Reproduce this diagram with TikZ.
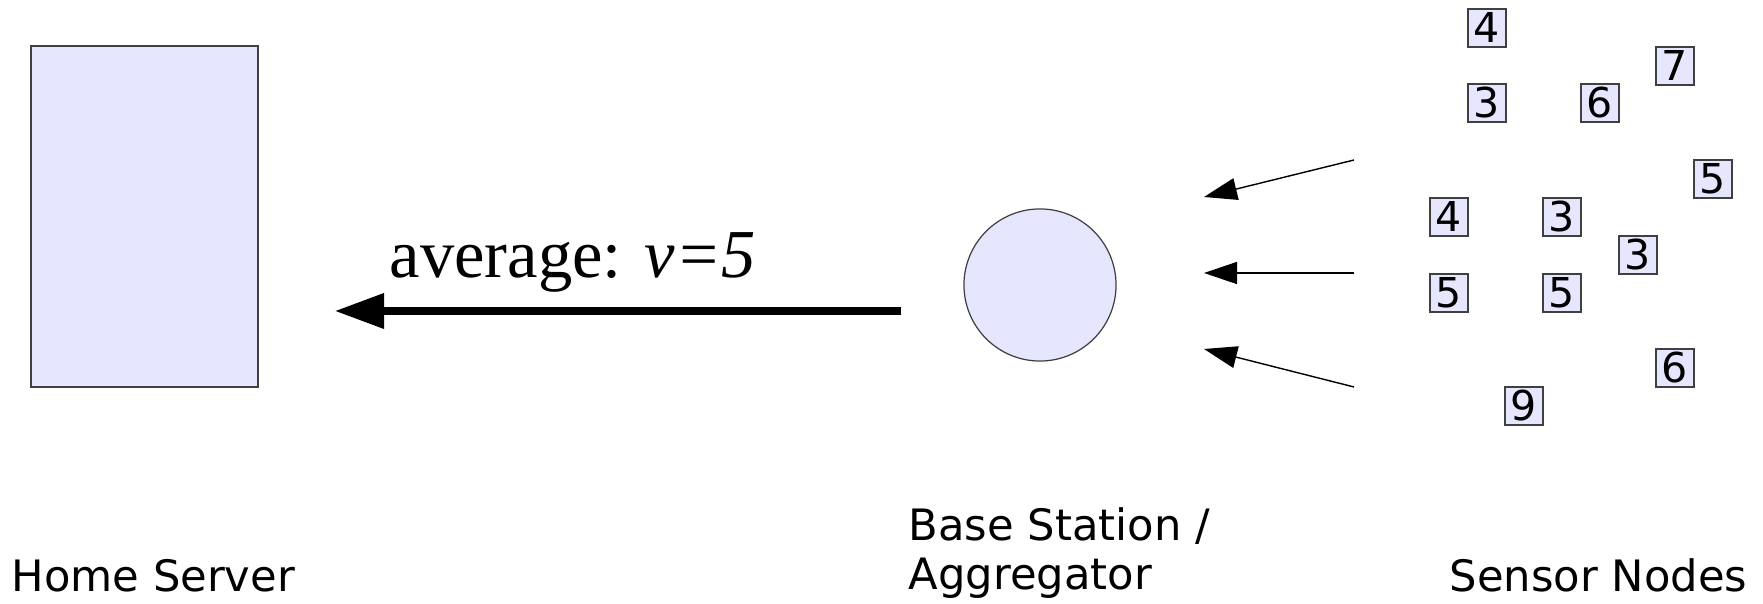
\documentclass[tikz,border=0pt]{standalone}
\usepackage{fontspec}
\setmainfont{DejaVu Sans}
\newfontfamily\timesfont{Liberation Serif}
\usetikzlibrary{positioning,arrows.meta}
\definecolor{nodefill}{HTML}{E6E6FF}
\definecolor{nodeline}{HTML}{404040}

\begin{document}
\begin{tikzpicture}[
    x=0.01cm, y=-0.01cm,
    device/.style={
        draw=nodeline,
        fill=nodefill,
        line width=0.35pt
    },
    sensor/.style={
        device,
        rectangle,
        minimum size=0.38cm,
        inner sep=0pt,
        font=\fontsize{11.7}{14}\selectfont
    },
    devname/.style={
        inner sep=0pt,
        anchor=base west,
        align=left,
        font=\fontsize{12.3}{14.2}\selectfont
    },
    report/.style={
        -{Triangle[length=4.9mm, width=3.4mm]},
        line width=2pt
    },
    reading/.style={
        -{Triangle[length=3.3mm, width=2.2mm]},
        line width=0.4pt
    }
]
\useasboundingbox (0,0) rectangle (1763,604);

\node[device, rectangle, minimum width=2.27cm, minimum height=3.41cm] (server)
    at (144.5,216.5) {};

\node[device, circle, minimum size=1.52cm] (station)
    at (1040,285) {};

% sensor readings
\foreach \name/\x/\y/\val in {
    s1/1487/28/4, s2/1675/66/7, s3/1487/103/3, s4/1600/103/6,
    s5/1713/179/5, s6/1449/217/4, s7/1562/217/3, s8/1638/255/3,
    s9/1449/293/5, s10/1562/293/5, s11/1675/368/6, s12/1524/406/9}
    \node[sensor] (\name) at (\x,\y) {\val};

\node[devname] (servername) at (11,592) {Home Server};
\node[devname] (stationname) at (908,590) {Base Station /\\Aggregator};
\node[devname] (sensorname) at (1449,592) {Sensor Nodes};

\coordinate (avgstart) at (901,311);
\coordinate (avgend) at (335,311);
\node[inner sep=0pt, anchor=base west, font=\timesfont\fontsize{19.5}{24}\selectfont] (avglabel)
    at (389,278) {average: \textit{v=5}};

\coordinate (in1) at (1354,160);
\coordinate (out1) at (1204,197);
\coordinate (in2) at (1354,273);
\coordinate (out2) at (1204,273);
\coordinate (in3) at (1354,387);
\coordinate (out3) at (1204,349);

\draw[report] (avgstart) -- (avgend);
\draw[reading] (in1) -- (out1);
\draw[reading] (in2) -- (out2);
\draw[reading] (in3) -- (out3);

\end{tikzpicture}
\end{document}
